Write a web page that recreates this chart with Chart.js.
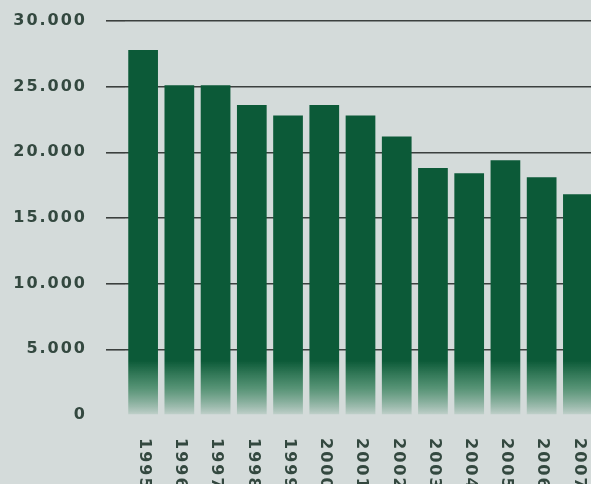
<!DOCTYPE html>
<html>
<head>
<meta charset="utf-8">
<script src="https://cdn.jsdelivr.net/npm/chart.js@4/dist/chart.umd.min.js"></script>
<style>
  html, body { margin: 0; padding: 0; overflow: hidden; background: #d4dbda; }
  #wrap { width: 600px; height: 484px; position: relative; }
</style>
</head>
<body>
<div id="wrap"><canvas id="chart" width="600" height="484"></canvas></div>
<script>
const years = ['1995', '1996', '1997', '1998', '1999', '2000', '2001', '2002', '2003', '2004', '2005', '2006', '2007'];
const values = [27800, 25100, 25100, 23600, 22800, 23600, 22800, 21200, 18800, 18400, 19400, 18100, 16800];
const yTicks = [0, 5000, 10000, 15000, 20000, 25000, 30000];

const barGreen = '#0c5a38';
const labelColor = '#33483f';

function formatThousands(v) {
  return String(v).replace(/\B(?=(\d{3})+(?!\d))/g, '.');
}

function barFill(context) {
  const chart = context.chart;
  const area = chart.chartArea;
  if (!area) return barGreen;
  const g = chart.ctx.createLinearGradient(0, area.bottom - 54, 0, area.bottom + 4);
  g.addColorStop(0, barGreen);
  g.addColorStop(0.45, 'rgba(40, 120, 80, 0.75)');
  g.addColorStop(1, 'rgba(212, 219, 218, 0.9)');
  return g;
}

// wide lettering like the original typeface
const spacing = {
  id: 'spacing',
  beforeDraw(chart) { chart.ctx.letterSpacing = '2px'; }
};

// year labels read top to bottom, drawn at the x scale's own positions
const yearLabels = {
  id: 'yearLabels',
  afterDraw(chart) {
    const x = chart.scales.x;
    const ctx = chart.ctx;
    ctx.save();
    ctx.font = 'bold 16px "DejaVu Sans"';
    ctx.letterSpacing = '2px';
    ctx.fillStyle = labelColor;
    ctx.textAlign = 'left';
    ctx.textBaseline = 'middle';
    years.forEach((yr, i) => {
      ctx.save();
      ctx.translate(x.getPixelForValue(i) + 1, chart.chartArea.bottom + 23);
      ctx.rotate(Math.PI / 2);
      ctx.fillText(yr, 0, 0);
      ctx.restore();
    });
    ctx.restore();
  }
};

new Chart(document.getElementById('chart'), {
  type: 'bar',
  data: {
    labels: years,
    datasets: [{
      data: values,
      backgroundColor: barFill,
      borderWidth: 0,
      categoryPercentage: 0.82,
      barPercentage: 1
    }]
  },
  options: {
    responsive: false,
    animation: false,
    layout: { padding: { top: 21, right: 4, bottom: 0, left: 0 } },
    plugins: {
      legend: { display: false },
      tooltip: { enabled: false }
    },
    scales: {
      x: {
        ticks: { display: false },
        grid: { display: false },
        border: { display: false },
        afterFit: scale => { scale.height = 69; }
      },
      y: {
        min: 0,
        max: 30000,
        afterBuildTicks: scale => { scale.ticks = yTicks.map(v => ({ value: v })); },
        afterFit: scale => {
          scale.width = 125;
          scale.paddingTop = 0;
          scale.paddingBottom = 0;
        },
        ticks: {
          color: labelColor,
          padding: 19,
          font: { family: 'DejaVu Sans', size: 16, weight: 'bold' },
          callback: v => formatThousands(v)
        },
        grid: {
          color: ctx => (ctx.tick && ctx.tick.value === 0 ? 'rgba(0,0,0,0)' : '#3b403e'),
          lineWidth: 1.6,
          tickLength: 19
        },
        border: { display: false }
      }
    }
  },
  plugins: [spacing, yearLabels]
});
</script>
</body>
</html>
